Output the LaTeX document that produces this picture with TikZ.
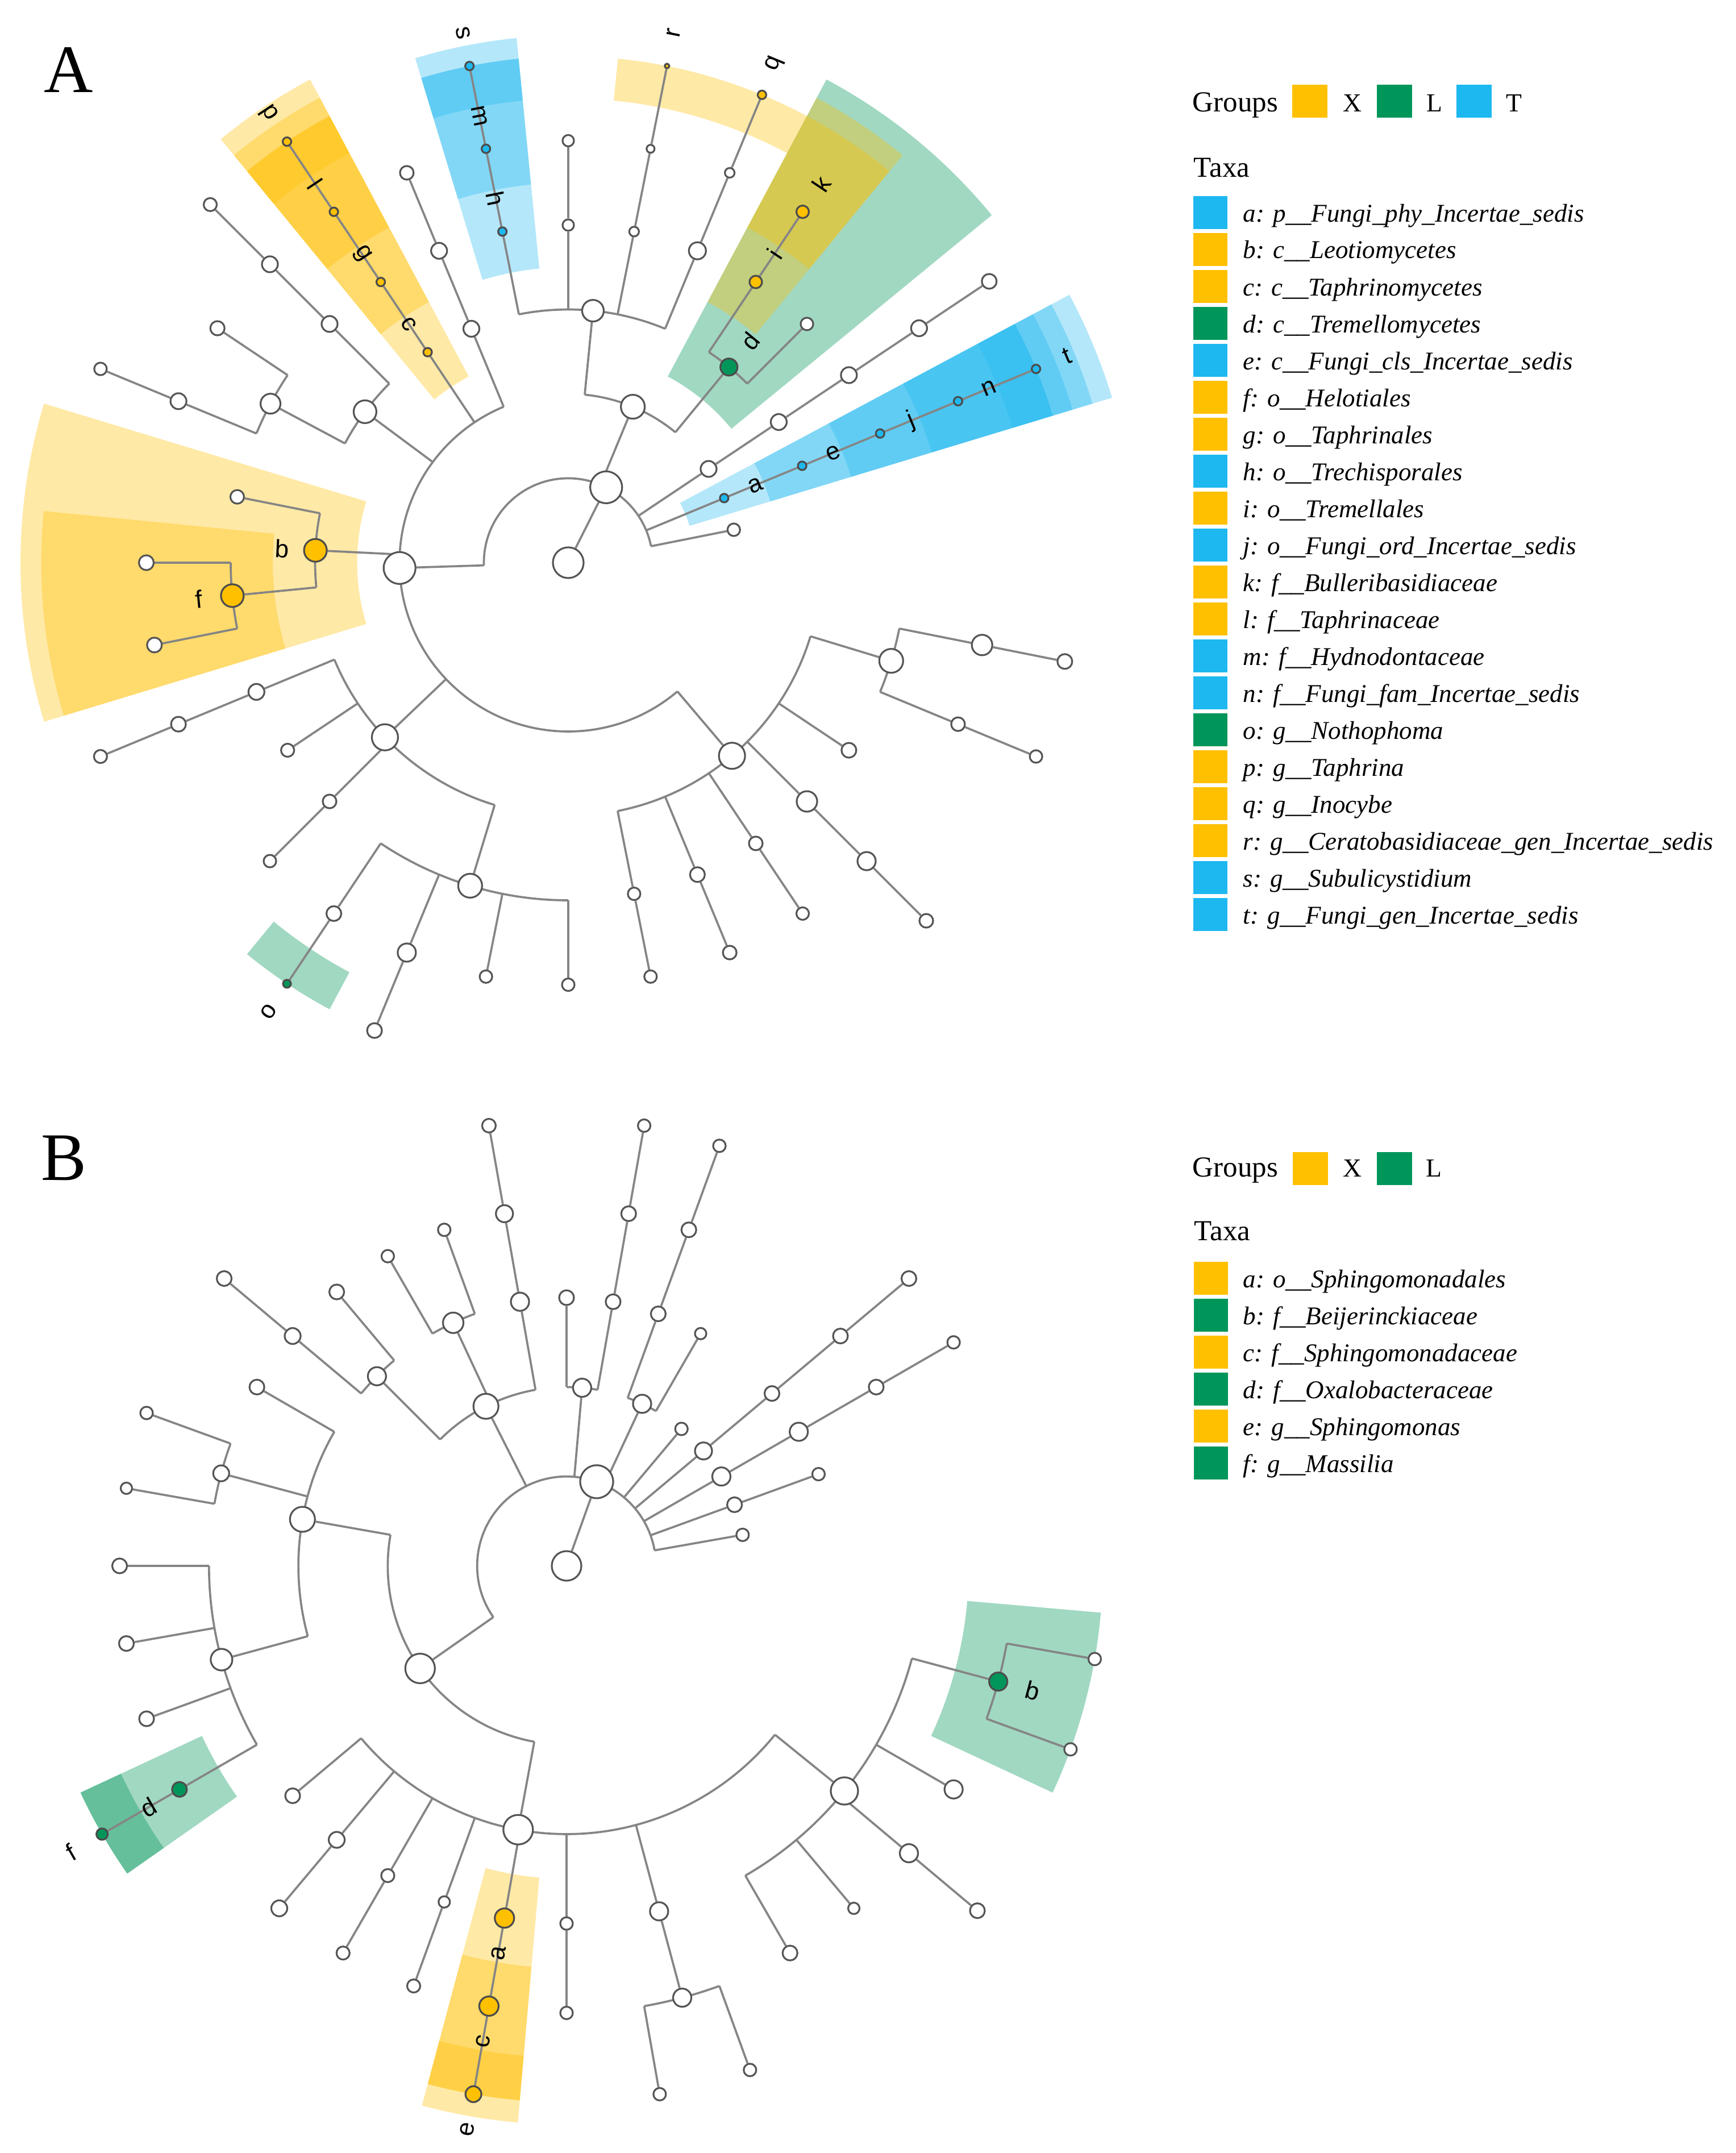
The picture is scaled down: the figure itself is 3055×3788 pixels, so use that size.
\documentclass[tikz,border=0pt]{standalone}
\usepackage{fontspec}
\setmainfont{Liberation Serif}
\newfontfamily\cladefont{Liberation Sans}

\definecolor{grpX}{HTML}{FFC000}
\definecolor{grpL}{HTML}{00965A}
\definecolor{grpT}{HTML}{1DB8F0}
\definecolor{branchgray}{HTML}{858585}
\definecolor{nodegray}{HTML}{555555}

\pgfdeclarelayer{paper}
\pgfdeclarelayer{shade}
\pgfdeclarelayer{twigs}
\pgfsetlayers{paper,shade,twigs,main}

\tikzset{
  branch/.style={draw=branchgray, line width=1.05pt},
  tnode/.style={circle, draw=nodegray, line width=0.9pt, fill=white, inner sep=0pt, minimum size=#1 mm},
  xnode/.style={tnode=#1, fill=grpX, draw=black!70},
  lnode/.style={tnode=#1, fill=grpL, draw=black!70},
  bnode/.style={tnode=#1, fill=grpT, draw=black!70},
  clab/.style={font=\cladefont\fontsize{12.5}{13}\selectfont, inner sep=0pt},
  shX/.style={fill=grpX, fill opacity=0.35},
  shL/.style={fill=grpL, fill opacity=0.37},
  shT/.style={fill=grpT, fill opacity=0.33},
  swatch/.style={draw=none, minimum width=6mm, minimum height=5.8mm, inner sep=0pt},
  hdtext/.style={font=\fontsize{14.5}{16}\selectfont, anchor=base west, inner sep=0pt},
  grtext/.style={font=\fontsize{13}{15}\selectfont, anchor=base west, inner sep=0pt},
  txtext/.style={font=\itshape\fontsize{12.8}{15}\selectfont, anchor=base west, inner sep=0pt},
  panel/.style={font=\fontsize{34}{40}\selectfont, anchor=base west, inner sep=0pt}
}

% radial twig from a child down to the ring of its parent
\newcommand{\twig}[3]{%
  \coordinate (#1-j) at (#2:#3);
  \draw[branch] (#1) -- (#1-j);}
% arc of a parent, starting at the joint of its first child
\newcommand{\fan}[4]{%
  \draw[branch] (#1) arc[start angle=#2, end angle=#3, radius=#4];}
% shaded sector behind a clade
\newcommand{\band}[5]{%
  \fill[#1] (#2:#4) arc[start angle=#2, end angle=#3, radius=#4]
    -- (#3:#5) arc[start angle=#3, end angle=#2, radius=#5] -- cycle;}

\begin{document}
\begin{tikzpicture}[x=0.01cm, y=-0.01cm]
\path[use as bounding box] (0,0) rectangle (3055,3788);
\begin{pgfonlayer}{paper}
  \fill[white] (0,0) rectangle (3055,3788);
\end{pgfonlayer}

\node[panel] (panelA) at (77,163) {A};
\node[panel] (panelB) at (72,2076) {B};

% ---------------- cladogram A
\begin{scope}[shift={(1000,990)}]
  \node[tnode=5.4] (Aroot) at (0,0) {};
  \node[tnode=5.6] (Aking) at (-63.3:148.5) {};
  \node[tnode=5.6] (Aasc) at (178.2:297) {};
  \node[tnode=4.2] (Abas) at (-67.5:297) {};
  \node[tnode=2.8] (An3L2) at (-33.75:297) {};
  \node[bnode=1.5] (Aa) at (-22.5:297) {};
  \node[tnode=2.2] (An1L2) at (-11.25:297) {};

  \node[tnode=4.6] (Ac1) at (49.7:445.5) {};
  \node[tnode=4.6] (Ac2) at (136.4:445.5) {};
  \node[xnode=4.0] (Ab) at (182.8:445.5) {};
  \node[tnode=4.0] (Ac3) at (216.6:445.5) {};
  \node[xnode=1.5] (Ac) at (236.25:445.5) {};
  \node[tnode=2.8] (Ap22L3) at (247.5:445.5) {};
  \node[tnode=3.8] (Ac4) at (-84.4:445.5) {};
  \node[lnode=3.0] (Ad) at (-50.6:445.5) {};
  \node[tnode=2.8] (An3L3) at (-33.75:445.5) {};
  \node[bnode=1.5] (Ae) at (-22.5:445.5) {};

  \node[tnode=4.2] (Ao1) at (16.9:594) {};
  \node[tnode=2.6] (Ap3L4) at (33.75:594) {};
  \node[tnode=3.6] (Ap4L4) at (45:594) {};
  \node[tnode=2.4] (Ap5L4) at (56.25:594) {};
  \node[tnode=2.6] (Ap6L4) at (67.5:594) {};
  \node[tnode=2.2] (Ap7L4) at (78.75:594) {};
  \node[tnode=4.2] (Ao2) at (106.9:594) {};
  \node[tnode=2.4] (Ap12L4) at (135:594) {};
  \node[tnode=2.3] (Ap13L4) at (146.25:594) {};
  \node[tnode=2.8] (Ap14L4) at (157.5:594) {};
  \node[xnode=4.0] (Af) at (174.4:594) {};
  \node[tnode=2.4] (Ap17L4) at (191.25:594) {};
  \node[tnode=3.5] (Ao3) at (208.1:594) {};
  \node[tnode=2.8] (Ap20L4) at (225:594) {};
  \node[xnode=1.5] (Ag) at (236.25:594) {};
  \node[tnode=2.8] (Ap22L4) at (247.5:594) {};
  \node[bnode=1.5] (Ah) at (-101.25:594) {};
  \node[tnode=2.0] (An8L4) at (-90:594) {};
  \node[tnode=1.7] (An7L4) at (-78.75:594) {};
  \node[tnode=3.0] (An6L4) at (-67.5:594) {};
  \node[xnode=2.2] (Ai) at (-56.25:594) {};
  \node[tnode=2.2] (An4L4) at (-45:594) {};
  \node[tnode=2.8] (An3L4) at (-33.75:594) {};
  \node[bnode=1.5] (Aj) at (-22.5:594) {};

  \node[tnode=3.6] (Ap1L5) at (11.25:742.5) {};
  \node[tnode=2.4] (Ap2L5) at (22.5:742.5) {};
  \node[tnode=3.2] (Ap4L5) at (45:742.5) {};
  \node[tnode=2.2] (Ap5L5) at (56.25:742.5) {};
  \node[tnode=2.4] (Ap6L5) at (67.5:742.5) {};
  \node[tnode=2.2] (Ap7L5) at (78.75:742.5) {};
  \node[tnode=2.2] (Ap8L5) at (90:742.5) {};
  \node[tnode=2.2] (Ap9L5) at (101.25:742.5) {};
  \node[tnode=3.2] (Ap10L5) at (112.5:742.5) {};
  \node[tnode=2.6] (Ap11L5) at (123.75:742.5) {};
  \node[tnode=2.2] (Ap12L5) at (135:742.5) {};
  \node[tnode=2.6] (Ap14L5) at (157.5:742.5) {};
  \node[tnode=2.6] (Ap15L5) at (168.75:742.5) {};
  \node[tnode=2.6] (Ap16L5) at (180:742.5) {};
  \node[tnode=2.8] (Ap18L5) at (202.5:742.5) {};
  \node[tnode=2.5] (Ap19L5) at (213.75:742.5) {};
  \node[tnode=2.8] (Ap20L5) at (225:742.5) {};
  \node[xnode=1.5] (Al) at (236.25:742.5) {};
  \node[tnode=2.4] (Ap22L5) at (247.5:742.5) {};
  \node[bnode=1.5] (Am) at (-101.25:742.5) {};
  \node[tnode=2.0] (An8L5) at (-90:742.5) {};
  \node[tnode=1.4] (An7L5) at (-78.75:742.5) {};
  \node[tnode=1.7] (An6L5) at (-67.5:742.5) {};
  \node[xnode=2.2] (Ak) at (-56.25:742.5) {};
  \node[tnode=2.8] (An3L5) at (-33.75:742.5) {};
  \node[bnode=1.5] (An) at (-22.5:742.5) {};

  \node[tnode=2.6] (Ap1L6) at (11.25:891) {};
  \node[tnode=2.2] (Ap2L6) at (22.5:891) {};
  \node[tnode=2.4] (Ap4L6) at (45:891) {};
  \node[tnode=2.6] (Ap10L6) at (112.5:891) {};
  \node[lnode=1.4] (Ao) at (123.75:891) {};
  \node[tnode=2.3] (Ap14L6) at (157.5:891) {};
  \node[tnode=2.2] (Ap18L6) at (202.5:891) {};
  \node[tnode=2.3] (Ap20L6) at (225:891) {};
  \node[xnode=1.5] (Ap) at (236.25:891) {};
  \node[bnode=1.5] (As) at (-101.25:891) {};
  \node[xnode=0.8] (Ar) at (-78.75:891) {};
  \node[xnode=1.5] (Aq) at (-67.5:891) {};
  \node[tnode=2.6] (An3L6) at (-33.75:891) {};
  \node[bnode=1.5] (At) at (-22.5:891) {};

  \begin{pgfonlayer}{twigs}
    \draw[branch] (Aroot) -- (Aking);
    \twig{Aasc}{178.2}{148.5} \twig{Abas}{-67.5}{148.5} \twig{An3L2}{-33.75}{148.5}
    \twig{Aa}{-22.5}{148.5} \twig{An1L2}{-11.25}{148.5}
    \twig{Ac1}{49.7}{297} \twig{Ac2}{136.4}{297} \twig{Ab}{182.8}{297} \twig{Ac3}{216.6}{297}
    \twig{Ac}{236.25}{297} \twig{Ap22L3}{247.5}{297} \twig{Ac4}{-84.4}{297} \twig{Ad}{-50.6}{297}
    \twig{Ao1}{16.9}{445.5} \twig{Ap3L4}{33.75}{445.5} \twig{Ap4L4}{45}{445.5}
    \twig{Ap5L4}{56.25}{445.5} \twig{Ap6L4}{67.5}{445.5} \twig{Ap7L4}{78.75}{445.5}
    \twig{Ao2}{106.9}{445.5} \twig{Ap12L4}{135}{445.5} \twig{Ap13L4}{146.25}{445.5} \twig{Ap14L4}{157.5}{445.5}
    \twig{Af}{174.4}{445.5} \twig{Ap17L4}{191.25}{445.5}
    \twig{Ao3}{208.1}{445.5} \twig{Ap20L4}{225}{445.5}
    \twig{Ah}{-101.25}{445.5} \twig{An8L4}{-90}{445.5} \twig{An7L4}{-78.75}{445.5} \twig{An6L4}{-67.5}{445.5}
    \twig{Ai}{-56.25}{445.5} \twig{An4L4}{-45}{445.5}
    \twig{Ap1L5}{11.25}{594} \twig{Ap2L5}{22.5}{594}
    \twig{Ap8L5}{90}{594} \twig{Ap9L5}{101.25}{594} \twig{Ap10L5}{112.5}{594} \twig{Ap11L5}{123.75}{594}
    \twig{Ap15L5}{168.75}{594} \twig{Ap16L5}{180}{594}
    \twig{Ap18L5}{202.5}{594} \twig{Ap19L5}{213.75}{594}
    \draw[branch] (An3L2) -- (An3L3) -- (An3L4) -- (An3L5) -- (An3L6);
    \draw[branch] (Aa) -- (Ae) -- (Aj) -- (An) -- (At);
    \draw[branch] (Ac) -- (Ag) -- (Al) -- (Ap);
    \draw[branch] (Ap22L3) -- (Ap22L4) -- (Ap22L5);
    \draw[branch] (Ah) -- (Am) -- (As);
    \draw[branch] (An8L4) -- (An8L5);
    \draw[branch] (An7L4) -- (An7L5) -- (Ar);
    \draw[branch] (An6L4) -- (An6L5) -- (Aq);
    \draw[branch] (Ai) -- (Ak);
    \draw[branch] (Ap4L4) -- (Ap4L5) -- (Ap4L6);
    \draw[branch] (Ap5L4) -- (Ap5L5);
    \draw[branch] (Ap6L4) -- (Ap6L5);
    \draw[branch] (Ap7L4) -- (Ap7L5);
    \draw[branch] (Ap12L4) -- (Ap12L5);
    \draw[branch] (Ap14L4) -- (Ap14L5) -- (Ap14L6);
    \draw[branch] (Ap20L4) -- (Ap20L5) -- (Ap20L6);
    \draw[branch] (Ap1L5) -- (Ap1L6);
    \draw[branch] (Ap2L5) -- (Ap2L6);
    \draw[branch] (Ap10L5) -- (Ap10L6);
    \draw[branch] (Ap11L5) -- (Ao);
    \draw[branch] (Ap18L5) -- (Ap18L6);
    \fan{Aasc-j}{178.2}{348.75}{148.5}
    \fan{Ac1-j}{49.7}{247.5}{297}
    \fan{Ac4-j}{-84.4}{-50.6}{297}
    \fan{Ao1-j}{16.9}{78.75}{445.5}
    \fan{Ap1L5-j}{11.25}{22.5}{594}
    \fan{Ao2-j}{106.9}{157.5}{445.5}
    \fan{Ap8L5-j}{90}{123.75}{594}
    \fan{Af-j}{174.4}{191.25}{445.5}
    \fan{Ap15L5-j}{168.75}{180}{594}
    \fan{Ao3-j}{208.1}{225}{445.5}
    \fan{Ap18L5-j}{202.5}{213.75}{594}
    \fan{Ah-j}{-101.25}{-67.5}{445.5}
    \fan{Ai-j}{-56.25}{-45}{445.5}
  \end{pgfonlayer}

  \begin{pgfonlayer}{shade}
    \band{shT}{-28.125}{-16.875}{223}{1000}
    \band{shT}{-28.125}{-16.875}{371.5}{964}
    \band{shT}{-28.125}{-16.875}{520}{927.5}
    \band{shT}{-28.125}{-16.875}{668.5}{891}
    \band{shT}{-28.125}{-16.875}{817}{891}
    \band{shX}{163.125}{196.875}{371.5}{964}
    \band{shX}{163.125}{185.625}{520}{927.5}
    \band{shT}{-106.875}{-95.625}{520}{927.5}
    \band{shT}{-106.875}{-95.625}{668.5}{891}
    \band{shT}{-106.875}{-95.625}{817}{891}
    \band{shX}{-129.375}{-118.125}{371.5}{964}
    \band{shX}{-129.375}{-118.125}{520}{927.5}
    \band{shX}{-129.375}{-118.125}{668.5}{891}
    \band{shX}{-129.375}{-118.125}{817}{891}
    \band{shX}{-84.375}{-61.875}{817}{891}
    \band{shL}{-61.875}{-39.375}{371.5}{964}
    \band{shX}{-61.875}{-50.625}{520}{927.5}
    \band{shX}{-61.875}{-50.625}{668.5}{891}
    \band{shL}{118.125}{129.375}{817}{891}
  \end{pgfonlayer}

  \node[clab, rotate=22.5] (LAa) at (-22.5:356) {a};
  \node[clab, rotate=22.5] (LAe) at (-22.5:504.5) {e};
  \node[clab, rotate=22.5] (LAj) at (-22.5:653) {j};
  \node[clab, rotate=22.5] (LAn) at (-22.5:801.5) {n};
  \node[clab, rotate=22.5] (LAt) at (-22.5:950) {t};
  \node[clab, rotate=-2.8] (LAb) at (182.8:504.5) {b};
  \node[clab, rotate=5.6] (LAf) at (174.4:653) {f};
  \node[clab, rotate=-78.75] (LAh) at (-101.25:653) {h};
  \node[clab, rotate=-78.75] (LAm) at (-101.25:801.5) {m};
  \node[clab, rotate=-78.75] (LAs) at (-101.25:950) {s};
  \node[clab, rotate=-56.25] (LAc) at (236.25:504.5) {c};
  \node[clab, rotate=-56.25] (LAg) at (236.25:653) {g};
  \node[clab, rotate=-56.25] (LAl) at (236.25:801.5) {l};
  \node[clab, rotate=-56.25] (LAp) at (236.25:950) {p};
  \node[clab, rotate=78.75] (LAr) at (-78.75:950) {r};
  \node[clab, rotate=67.5] (LAq) at (-67.5:950) {q};
  \node[clab, rotate=50.6] (LAd) at (-50.6:504.5) {d};
  \node[clab, rotate=56.25] (LAi) at (-56.25:653) {i};
  \node[clab, rotate=56.25] (LAk) at (-56.25:801.5) {k};
  \node[clab, rotate=56.25] (LAo) at (123.75:950) {o};
\end{scope}

% ---------------- cladogram B
\begin{scope}[shift={(997,2755)}]
  \node[tnode=5.2] (Broot) at (0,0) {};
  \node[tnode=5.8] (Bking) at (-70.3:157.3) {};
  \node[tnode=5.2] (BP) at (145:314.6) {};
  \node[tnode=4.4] (BQ) at (-116.8:314.6) {};
  \node[tnode=3.2] (BQ2) at (-85:314.6) {};
  \node[tnode=3.2] (BQ3) at (-65:314.6) {};
  \node[tnode=2.2] (Bn50L2) at (-50:314.6) {};
  \node[tnode=3.0] (Bn40L2) at (-40:314.6) {};
  \node[tnode=3.2] (Bn30L2) at (-30:314.6) {};
  \node[tnode=2.6] (Bn20L2) at (-20:314.6) {};
  \node[tnode=2.2] (Bn10L2) at (-10:314.6) {};

  \node[tnode=5.2] (Balpha) at (100.4:471.9) {};
  \node[tnode=4.4] (BG) at (190:471.9) {};
  \node[tnode=3.2] (B135) at (-135:471.9) {};
  \node[tnode=3.6] (B115) at (-115:471.9) {};
  \node[tnode=3.2] (Bn100L3) at (-100:471.9) {};
  \node[tnode=2.6] (Bn90L3) at (-90:471.9) {};
  \node[tnode=2.6] (Bn80L3) at (-80:471.9) {};
  \node[tnode=2.6] (Bn70L3) at (-70:471.9) {};
  \node[tnode=2.0] (Bn60L3) at (-60:471.9) {};
  \node[tnode=2.6] (Bn40L3) at (-40:471.9) {};
  \node[tnode=3.2] (Bn30L3) at (-30:471.9) {};
  \node[tnode=2.2] (Bn20L3) at (-20:471.9) {};

  \node[tnode=4.8] (Bo39) at (39:629.2) {};
  \node[tnode=3.2] (Bp75L4) at (75:629.2) {};
  \node[tnode=2.2] (Bp90L4) at (90:629.2) {};
  \node[xnode=3.4] (Ba) at (100:629.2) {};
  \node[tnode=2.0] (Bp110L4) at (110:629.2) {};
  \node[tnode=2.3] (Bp120L4) at (120:629.2) {};
  \node[tnode=2.8] (Bp130L4) at (130:629.2) {};
  \node[tnode=2.6] (Bp140L4) at (140:629.2) {};
  \node[tnode=3.8] (B165) at (164.8:629.2) {};
  \node[tnode=2.8] (B195) at (195:629.2) {};
  \node[tnode=2.6] (Bp210L4) at (210:629.2) {};
  \node[tnode=2.8] (Bn140L4) at (-140:629.2) {};
  \node[tnode=2.6] (Bn130L4) at (-130:629.2) {};
  \node[tnode=2.2] (Bn120L4) at (-120:629.2) {};
  \node[tnode=2.2] (Bn110L4) at (-110:629.2) {};
  \node[tnode=3.0] (Bn100L4) at (-100:629.2) {};
  \node[tnode=2.6] (Bn80L4) at (-80:629.2) {};
  \node[tnode=2.6] (Bn70L4) at (-70:629.2) {};
  \node[tnode=2.6] (Bn40L4) at (-40:629.2) {};
  \node[tnode=2.6] (Bn30L4) at (-30:629.2) {};

  \node[lnode=3.2] (Bb) at (15:786.5) {};
  \node[tnode=3.2] (Bp30L5) at (30:786.5) {};
  \node[tnode=3.2] (Bp40L5) at (40:786.5) {};
  \node[tnode=2.0] (Bp50L5) at (50:786.5) {};
  \node[tnode=2.6] (Bp60L5) at (60:786.5) {};
  \node[tnode=3.2] (Bp75L5) at (75:786.5) {};
  \node[tnode=2.2] (Bp90L5) at (90:786.5) {};
  \node[xnode=3.4] (Bc) at (100:786.5) {};
  \node[tnode=2.3] (Bp110L5) at (110:786.5) {};
  \node[tnode=2.3] (Bp120L5) at (120:786.5) {};
  \node[tnode=2.8] (Bp130L5) at (130:786.5) {};
  \node[lnode=2.6] (Bd) at (150:786.5) {};
  \node[tnode=2.6] (Bp160L5) at (160:786.5) {};
  \node[tnode=2.6] (Bp170L5) at (170:786.5) {};
  \node[tnode=2.6] (Bp180L5) at (180:786.5) {};
  \node[tnode=2.0] (Bp190L5) at (190:786.5) {};
  \node[tnode=2.2] (Bp200L5) at (200:786.5) {};
  \node[tnode=2.6] (Bn140L5) at (-140:786.5) {};
  \node[tnode=2.4] (Bn100L5) at (-100:786.5) {};
  \node[tnode=2.2] (Bn80L5) at (-80:786.5) {};
  \node[tnode=2.2] (Bn70L5) at (-70:786.5) {};
  \node[tnode=2.6] (Bn40L5) at (-40:786.5) {};
  \node[tnode=2.2] (Bn30L5) at (-30:786.5) {};

  \node[tnode=2.2] (Bp10L6) at (10:943.8) {};
  \node[tnode=2.2] (Bp20L6) at (20:943.8) {};
  \node[tnode=2.6] (Bp40L6) at (40:943.8) {};
  \node[tnode=2.2] (Bp70L6) at (70:943.8) {};
  \node[tnode=2.2] (Bp80L6) at (80:943.8) {};
  \node[xnode=2.8] (Be) at (100:943.8) {};
  \node[lnode=2.0] (Bf) at (150:943.8) {};

  \begin{pgfonlayer}{twigs}
    \draw[branch] (Broot) -- (Bking);
    \twig{BP}{145}{157.3} \twig{BQ}{-116.8}{157.3} \twig{BQ2}{-85}{157.3} \twig{BQ3}{-65}{157.3}
    \twig{Bn50L2}{-50}{157.3} \twig{Bn40L2}{-40}{157.3} \twig{Bn30L2}{-30}{157.3}
    \twig{Bn20L2}{-20}{157.3} \twig{Bn10L2}{-10}{157.3}
    \twig{Balpha}{100.4}{314.6} \twig{BG}{190}{314.6}
    \twig{B135}{-135}{314.6} \twig{B115}{-115}{314.6} \twig{Bn100L3}{-100}{314.6}
    \twig{Bn90L3}{-90}{314.6} \twig{Bn80L3}{-80}{314.6} \twig{Bn70L3}{-70}{314.6} \twig{Bn60L3}{-60}{314.6}
    \twig{Bo39}{39}{471.9} \twig{Bp75L4}{75}{471.9} \twig{Bp90L4}{90}{471.9} \twig{Ba}{100}{471.9}
    \twig{Bp110L4}{110}{471.9} \twig{Bp120L4}{120}{471.9} \twig{Bp130L4}{130}{471.9} \twig{Bp140L4}{140}{471.9}
    \twig{B165}{164.8}{471.9} \twig{B195}{195}{471.9} \twig{Bp210L4}{210}{471.9}
    \twig{Bn140L4}{-140}{471.9} \twig{Bn130L4}{-130}{471.9} \twig{Bn120L4}{-120}{471.9} \twig{Bn110L4}{-110}{471.9}
    \twig{Bb}{15}{629.2} \twig{Bp30L5}{30}{629.2} \twig{Bp40L5}{40}{629.2} \twig{Bp50L5}{50}{629.2} \twig{Bp60L5}{60}{629.2}
    \twig{Bd}{150}{629.2} \twig{Bp160L5}{160}{629.2} \twig{Bp170L5}{170}{629.2} \twig{Bp180L5}{180}{629.2}
    \twig{Bp190L5}{190}{629.2} \twig{Bp200L5}{200}{629.2}
    \twig{Bp10L6}{10}{786.5} \twig{Bp20L6}{20}{786.5} \twig{Bp70L6}{70}{786.5} \twig{Bp80L6}{80}{786.5}
    \draw[branch] (Bn40L2) -- (Bn40L3) -- (Bn40L4) -- (Bn40L5);
    \draw[branch] (Bn30L2) -- (Bn30L3) -- (Bn30L4) -- (Bn30L5);
    \draw[branch] (Bn20L2) -- (Bn20L3);
    \draw[branch] (Bn100L3) -- (Bn100L4) -- (Bn100L5);
    \draw[branch] (Bn80L3) -- (Bn80L4) -- (Bn80L5);
    \draw[branch] (Bn70L3) -- (Bn70L4) -- (Bn70L5);
    \draw[branch] (Bn140L4) -- (Bn140L5);
    \draw[branch] (Bp130L4) -- (Bp130L5);
    \draw[branch] (Bp120L4) -- (Bp120L5);
    \draw[branch] (Bp110L4) -- (Bp110L5);
    \draw[branch] (Ba) -- (Bc) -- (Be);
    \draw[branch] (Bp90L4) -- (Bp90L5);
    \draw[branch] (Bp75L4) -- (Bp75L5);
    \draw[branch] (Bp40L5) -- (Bp40L6);
    \draw[branch] (Bd) -- (Bf);
    \fan{BP-j}{145}{350}{157.3}
    \fan{Balpha-j}{100.4}{190}{314.6}
    \fan{B135-j}{-135}{-100}{314.6}
    \fan{Bn90L3-j}{-90}{-80}{314.6}
    \fan{Bn70L3-j}{-70}{-60}{314.6}
    \fan{Bo39-j}{39}{140}{471.9}
    \fan{B165-j}{164.8}{210}{471.9}
    \fan{Bn140L4-j}{-140}{-130}{471.9}
    \fan{Bn120L4-j}{-120}{-110}{471.9}
    \fan{Bb-j}{15}{60}{629.2}
    \fan{Bp190L5-j}{190}{200}{629.2}
    \fan{Bd-j}{150}{180}{629.2}
    \fan{Bp70L6-j}{70}{80}{786.5}
    \fan{Bp10L6-j}{10}{20}{786.5}
  \end{pgfonlayer}

  \begin{pgfonlayer}{shade}
    \band{shL}{5}{25}{707.9}{943.8}
    \band{shX}{95}{105}{550.5}{983}
    \band{shX}{95}{105}{707.9}{943.8}
    \band{shX}{95}{105}{865.2}{943.8}
    \band{shL}{145}{155}{707.9}{943.8}
    \band{shL}{145}{155}{865.2}{943.8}
  \end{pgfonlayer}

  \node[clab, rotate=-15] (LBb) at (15:849.5) {b};
  \node[clab, rotate=80] (LBa) at (100:692) {a};
  \node[clab, rotate=80] (LBc) at (100:849.5) {c};
  \node[clab, rotate=80] (LBe) at (100:1007) {e};
  \node[clab, rotate=30] (LBd) at (150:849.5) {d};
  \node[clab, rotate=30] (LBf) at (150:1007) {f};
\end{scope}

% ---------------- legend A
\node[hdtext] (AgrpHead) at (2098,197) {Groups};
\node[swatch, minimum width=6.2mm, fill=grpX] (AswX) at (2305,178) {};
\node[grtext] (AgX) at (2363,197) {X};
\node[swatch, minimum width=6.2mm, fill=grpL] (AswL) at (2454,178) {};
\node[grtext] (AgL) at (2510,197) {L};
\node[swatch, minimum width=6.2mm, fill=grpT] (AswT) at (2594,178) {};
\node[grtext] (AgT) at (2650,197) {T};
\node[hdtext] (AtaxHead) at (2100,312) {Taxa};
\foreach \col/\txt [count=\i from 0] in {
  grpT/{a: p\_\_Fungi\_phy\_Incertae\_sedis},
  grpX/{b: c\_\_Leotiomycetes},
  grpX/{c: c\_\_Taphrinomycetes},
  grpL/{d: c\_\_Tremellomycetes},
  grpT/{e: c\_\_Fungi\_cls\_Incertae\_sedis},
  grpX/{f: o\_\_Helotiales},
  grpX/{g: o\_\_Taphrinales},
  grpT/{h: o\_\_Trechisporales},
  grpX/{i: o\_\_Tremellales},
  grpT/{j: o\_\_Fungi\_ord\_Incertae\_sedis},
  grpX/{k: f\_\_Bulleribasidiaceae},
  grpX/{l: f\_\_Taphrinaceae},
  grpT/{m: f\_\_Hydnodontaceae},
  grpT/{n: f\_\_Fungi\_fam\_Incertae\_sedis},
  grpL/{o: g\_\_Nothophoma},
  grpX/{p: g\_\_Taphrina},
  grpX/{q: g\_\_Inocybe},
  grpX/{r: g\_\_Ceratobasidiaceae\_gen\_Incertae\_sedis},
  grpT/{s: g\_\_Subulicystidium},
  grpT/{t: g\_\_Fungi\_gen\_Incertae\_sedis}}{
  \node[swatch, fill=\col] (Asw\i) at (2130,374+65*\i) {};
  \node[txtext] (Atx\i) at (2187,390+65*\i) {\txt};
}

% ---------------- legend B
\node[hdtext] (BgrpHead) at (2098,2070) {Groups};
\node[swatch, minimum width=6.2mm, fill=grpX] (BswX) at (2306,2056) {};
\node[grtext] (BgX) at (2363,2070) {X};
\node[swatch, minimum width=6.2mm, fill=grpL] (BswL) at (2454,2056) {};
\node[grtext] (BgL) at (2509,2070) {L};
\node[hdtext] (BtaxHead) at (2101,2182) {Taxa};
\foreach \col/\txt [count=\i from 0] in {
  grpX/{a: o\_\_Sphingomonadales},
  grpL/{b: f\_\_Beijerinckiaceae},
  grpX/{c: f\_\_Sphingomonadaceae},
  grpL/{d: f\_\_Oxalobacteraceae},
  grpX/{e: g\_\_Sphingomonas},
  grpL/{f: g\_\_Massilia}}{
  \node[swatch, fill=\col] (Bsw\i) at (2131,2249+65*\i) {};
  \node[txtext] (Btx\i) at (2187,2265+65*\i) {\txt};
}
\end{tikzpicture}
\end{document}
